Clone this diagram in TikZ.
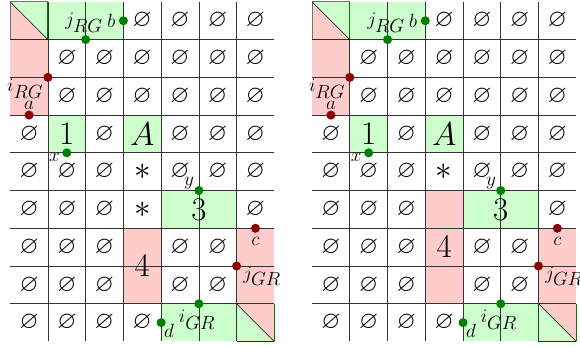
\documentclass[tikz,border=0pt]{standalone}
\usepackage{amssymb}
\usetikzlibrary{positioning}

\tikzset{
	redcell/.style={fill=red!20},
	greencell/.style={fill=green!20},
	gridline/.style={black!80,line width=0.5pt},
	sym/.style={inner sep=0pt,font=\fontsize{18.5}{20}\selectfont},
	star/.style={inner sep=0pt,font=\fontsize{23}{25}\selectfont},
	big/.style={inner sep=0pt,font=\fontsize{23}{26}\selectfont},
	lab/.style={inner sep=0pt,font=\fontsize{14.5}{16}\selectfont},
	reddot/.style={circle,fill=red!55!black,inner sep=0pt,minimum size=2.4mm},
	greendot/.style={circle,fill=green!50!black,inner sep=0pt,minimum size=2.4mm}
}
\newcommand{\sub}[2]{$#1_{\textstyle #2}$}

% what both boards share
\newcommand{\boardcommon}{%
	% coloured cells
	\fill[greencell] (1,8) rectangle (3,9);
	\fill[redcell] (0,6) rectangle (1,8);
	\fill[greencell] (1,5) rectangle (2,6);
	\fill[greencell] (3,5) rectangle (4,6);
	\fill[greencell] (4,3) rectangle (6,4);
	\fill[redcell] (6,1) rectangle (7,3);
	\fill[greencell] (4,0) rectangle (6,1);
	% split corner cells
	\fill[redcell] (0,9) -- (0,8) -- (1,8) -- cycle;
	\fill[greencell] (0,9) -- (1,9) -- (1,8) -- cycle;
	\fill[redcell] (6,1) -- (7,1) -- (7,0) -- cycle;
	\fill[greencell] (6,1) -- (6,0) -- (7,0) -- cycle;
	% grid
	\foreach \i in {1,...,6}
		\draw[gridline] (\i,0) -- (\i,9);
	\foreach \j in {1,...,8}
		\draw[gridline] (0,\j) -- (7,\j);
	\draw[black!55,line width=0.6pt] (0,8) -- (0,9) -- (1,9);
	\draw[green!50!black,line width=0.8pt] (1,9) -- (1,8);
	\draw[red!55!black,line width=0.8pt] (0,8) -- (1,8);
	\draw[green!50!black,line width=0.8pt] (7,1) -- (7,0);
	\draw[red!55!black,line width=0.8pt] (6,0) -- (7,0);
	\draw (0,9) -- (1,8);
	\draw (6,1) -- (7,0);
	% empty cells
	\foreach \r/\cols in {1/{4,5,6,7},2/{2,3,4,5,6,7},3/{2,3,4,5,6,7},
		4/{1,3,5,6,7},5/{1,2,3,5,6,7},6/{1,2,3,7},7/{1,2,3,5,6},
		8/{1,2,3,5,6},9/{1,2,3,4}}
		\foreach \c in \cols
			\node[sym] at (\c-0.5,9.5-\r) {$\varnothing$};
	\node[star] (s1) at (3.5,4.5) {$*$};
	\node[big] (n1) at (1.5,5.5) {$1$};
	\node[big] (nA) at (3.5,5.5) {$A$};
	\node[big] (n3) at (5,3.5) {$3$};
	% marked points
	\node[greendot] (jrg) at (2,8) {};
	\node[greendot] (b) at (3,8.5) {};
	\node[reddot] (irg) at (1,7) {};
	\node[reddot] (a) at (0.5,6) {};
	\node[greendot] (x) at (1.5,5) {};
	\node[greendot] (y) at (5,4) {};
	\node[reddot] (c) at (6.5,3) {};
	\node[reddot] (jgr) at (6,2) {};
	\node[greendot] (igr) at (5,1) {};
	\node[greendot] (d) at (4,0.5) {};
	% their labels
	\node[lab] (jrg-l) at ([shift={(-0.04,0.45)}]jrg) {\sub{j}{RG}};
	\node[lab] (b-l) at ([shift={(-0.32,0)}]b) {$b$};
	\node[lab] (irg-l) at ([shift={(-0.6,-0.3)}]irg) {\sub{i}{RG}};
	\node[lab] (a-l) at ([shift={(0,0.27)}]a) {$a$};
	\node[lab] (x-l) at ([shift={(-0.33,-0.12)}]x) {$x$};
	\node[lab] (y-l) at ([shift={(-0.26,0.19)}]y) {$y$};
	\node[lab] (c-l) at ([shift={(0,-0.34)}]c) {$c$};
	\node[lab] (jgr-l) at ([shift={(0.68,-0.27)}]jgr) {\sub{j}{GR}};
	\node[lab] (igr-l) at ([shift={(-0.05,-0.42)}]igr) {\sub{i}{GR}};
	\node[lab] (d-l) at ([shift={(0.21,-0.22)}]d) {$d$};
}

\begin{document}
\begin{tikzpicture}
	\useasboundingbox (-0.27,-0.14) rectangle (15.1,9.05);

	% left board
	\begin{scope}[name prefix=L-]
		\fill[redcell] (3,1) rectangle (4,3);
		\node[star] (s2) at (3.5,3.5) {$*$};
		\boardcommon
		\node[big] (n4) at (3.5,2) {$4$};
	\end{scope}

	% right board
	\begin{scope}[xshift=8cm,name prefix=R-]
		\fill[redcell] (3,1) rectangle (4,4);
		\boardcommon
		\node[big] (n4) at (3.5,2.5) {$4$};
	\end{scope}
\end{tikzpicture}
\end{document}
